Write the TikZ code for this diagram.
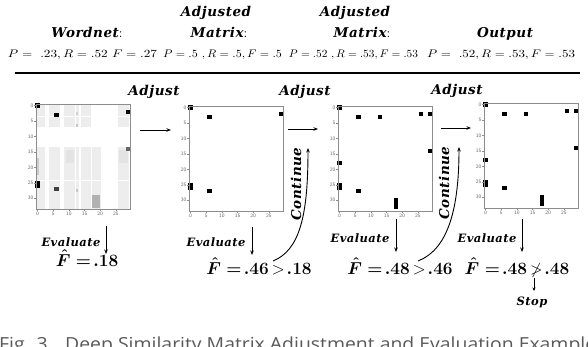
\documentclass[tikz,border=0pt]{standalone}
\usepackage{amsmath,amssymb}
\usepackage{fontspec}
\usetikzlibrary{arrows.meta}
\newfontfamily\lblfont{DejaVu Serif}[LetterSpace=4]
\newfontfamily\capfont{Open Sans}
\newcommand{\mcell}[3][black]{\fill[#1] (#2-0.2,#3-0.2) rectangle (#2+1.2,#3+1.2);}
\newcommand{\mtall}[4][black]{\fill[#1] (#2-0.2,#3-0.2) rectangle (#2+1.2,#4+1.2);}
\newcommand{\maxes}[1]{%
  \draw[axisline] (0,0) rectangle (30,34);
  \foreach \v in {0,5,...,25} {\draw[axisline] (\v+0.5,34) -- ++(0,0.7);
    \node[tlab,anchor=north] (#1x\v) at (\v+0.5,34.8) {\v};}
  \foreach \v in {0,5,...,30} {\draw[axisline] (0,\v+0.5) -- ++(-0.6,0);
    \node[tlab,anchor=east] (#1y\v) at (-0.7,\v+0.5) {\v};}
}
\newcommand{\mpoints}{%
  \mcell{0}{0}\mcell{6}{3}\mcell{13}{3}\mcell{26}{2}\mcell{29}{2}\mcell{29}{14}
  \mcell{0}{18}\mtall{0}{25}{26}\mcell{6}{27}\mtall{18}{30}{32}}
\newcommand{\bF}[1]{$\boldsymbol{\hat{F}\mathrel{=}\!#1}$}
\tikzset{
  axisline/.style={draw=black!45,line width=0.5pt},
  tlab/.style={font=\sffamily\fontsize{5.2}{6}\selectfont,text=black!60,inner sep=0.3pt},
  lbl/.style={font=\lblfont\bfseries\itshape\fontsize{13.5}{16}\selectfont,inner sep=0pt,anchor=base},
  evlbl/.style={font=\lblfont\bfseries\itshape\fontsize{11.5}{14}\selectfont,inner sep=0pt,anchor=base},
  fml/.style={font=\fontsize{11}{13}\selectfont,inner sep=0pt,anchor=base},
  flab/.style={font=\fontsize{16}{18}\selectfont,inner sep=0pt,anchor=base},
  arr/.style={-{Stealth[length=4.5pt,width=3.5pt]},line width=0.9pt},
  light/.style={fill=black!7},
  mframe/.style={inner sep=0pt,minimum width=94pt,minimum height=105pt,anchor=north west}
}
\begin{document}
\begin{tikzpicture}[x=1pt,y=-1pt]
\useasboundingbox (0,0) rectangle (588,346);
% header
\node[lbl] (h1) at (87,37) {Wordnet{\rmfamily\mdseries\upshape:}};
\node[lbl] (h2a) at (216,16) {Adjusted};
\node[lbl] (h2b) at (219,37) {Matrix{\rmfamily\mdseries\upshape:}};
\node[lbl] (h3a) at (355,16) {Adjusted};
\node[lbl] (h3b) at (362,37) {Matrix{\rmfamily\mdseries\upshape:}};
\node[lbl] (h4) at (505,37) {Output};
\node[fml] (p1) at (82.5,57) {\resizebox{149pt}{\height}{$P=\ .23, R=.52\ F=.27$}};
\node[fml] (p2) at (222.5,57) {\resizebox{119pt}{\height}{$P=.5\ ,R=.5, F=.5$}};
\node[fml] (p3) at (353.5,57) {\resizebox{129pt}{\height}{$P=.52\ ,R=.53, F=.53$}};
\node[fml] (p4) at (501,57) {\resizebox{148pt}{\height}{$P=\ .52, R=.53, F=.53$}};
\coordinate (rl) at (15,73);
\coordinate (rr) at (580,73);
\draw[line width=1.3pt] (rl) -- (rr);
% matrix frames
\node[mframe] (m1) at (36,104) {};
\node[mframe] (m2) at (189,106) {};
\node[mframe] (m3) at (338,106) {};
\node[mframe] (m4) at (484,103) {};
% matrix 1
\begin{scope}[shift={(m1.north west)},x=3.133pt,y=-3.088pt]
  \foreach \ya/\yb in {0/4,4.3/7.6,14/24.6,25/34} {
    \foreach \xa/\xb in {0.2/3,4/7.8,9/12.4,12.7/13.6,14.4/17.6,26.2/29.8} {
      \fill[light] (\xa,\ya) rectangle (\xb,\yb);}}
  \foreach \ya/\yb in {14/24.6,25/34} {\fill[light] (17.9,\ya) rectangle (20.6,\yb);}
  \fill[black!20] (0.2,17.5) rectangle (1,23);
  \fill[black!18] (12.8,2.6) rectangle (13.5,3.6);
  \fill[black!22] (12.8,6.6) rectangle (13.5,7.4);
  \fill[black!22] (12.8,27.6) rectangle (13.5,28.4);
  \fill[black!11] (9.5,15) rectangle (12,19);
  \fill[black!11] (26.5,15) rectangle (29.5,19);
  \fill[black!30] (18,29.5) rectangle (20.3,33.6);
  \mcell{0}{0}\mcell{6}{3}\mcell{29}{2}\mtall{0}{25}{26}
  \mcell[black!60]{29}{14}\mcell[black!75]{6}{27}
  \maxes{a}
\end{scope}
% matrix 2
\begin{scope}[shift={(m2.north west)},x=3.133pt,y=-3.088pt]
  \mcell{0}{0}\mcell{6}{3}\mcell{29}{2}\mtall{0}{25}{26}\mcell{6}{27}
  \maxes{b}
\end{scope}
% matrix 3
\begin{scope}[shift={(m3.north west)},x=3.133pt,y=-3.088pt]
  \mpoints
  \maxes{c}
\end{scope}
% matrix 4
\begin{scope}[shift={(m4.north west)},x=3.133pt,y=-3.088pt]
  \mpoints
  \maxes{d}
\end{scope}
% adjust
\node[lbl] (ad1) at (154,95) {Adjust};
\node[lbl] (ad2) at (305,95) {Adjust};
\node[lbl] (ad3) at (457,94) {Adjust};
\coordinate (a1s) at (140,130); \coordinate (a1e) at (171,130);
\coordinate (a2s) at (288,129); \coordinate (a2e) at (318,129);
\coordinate (a3s) at (441,128); \coordinate (a3e) at (471,128);
\draw[arr] (a1s) -- (a1e);
\draw[arr] (a2s) -- (a2e);
\draw[arr] (a3s) -- (a3e);
% evaluate
\node[evlbl] (e1) at (71,246) {Evaluate};
\node[evlbl] (e2) at (216,246) {Evaluate};
\node[evlbl] (e3) at (360,242) {Evaluate};
\node[evlbl] (e4) at (487,242) {Evaluate};
\coordinate (v1s) at (106,226); \coordinate (v1e) at (106,254);
\coordinate (v2s) at (252,227); \coordinate (v2e) at (252,255);
\coordinate (v3s) at (396,219); \coordinate (v3e) at (396,252);
\coordinate (v4s) at (522,219); \coordinate (v4e) at (522,252);
\draw[arr] (v1s) -- (v1e);
\draw[arr] (v2s) -- (v2e);
\draw[arr] (v3s) -- (v3e);
\draw[arr] (v4s) -- (v4e);
% F hat
\node[flab] (f1) at (87,266) {\bF{.18}};
\node[flab] (f2) at (259,274) {\bF{.46}$\,>\!\boldsymbol{.18}$};
\node[flab] (f3) at (400,274) {\bF{.48}$\,>\!\boldsymbol{.46}$};
\node[flab] (f4) at (517,274) {\bF{.48}$\,\ngtr\!\boldsymbol{.48}$};
% continue
\node[lbl,anchor=center,rotate=90] (c1) at (296,184) {Continue};
\node[lbl,anchor=center,rotate=90] (c2) at (444,183) {Continue};
\coordinate (k1s) at (273,261); \coordinate (k1e) at (308,148);
\coordinate (k2s) at (418,261); \coordinate (k2e) at (459,147);
\draw[arr] (k1s) .. controls (300,250) and (308,215) .. (k1e);
\draw[arr] (k2s) .. controls (446,250) and (459,214) .. (k2e);
% stop
\coordinate (s1) at (534,278); \coordinate (s2) at (534,291);
\draw[-{Stealth[length=3.5pt,width=3pt]},line width=0.8pt] (s1) -- (s2);
\node[evlbl] (st) at (532,305) {Stop};
% caption
\node[font=\capfont\fontsize{18}{20}\selectfont,text=black!65,anchor=base west,inner sep=0pt] (cap) at (-1,350.5) {\resizebox{597pt}{\height}{Fig. 3\hspace{0.9em}Deep Similarity Matrix Adjustment and Evaluation Example}};
\end{tikzpicture}
\end{document}
